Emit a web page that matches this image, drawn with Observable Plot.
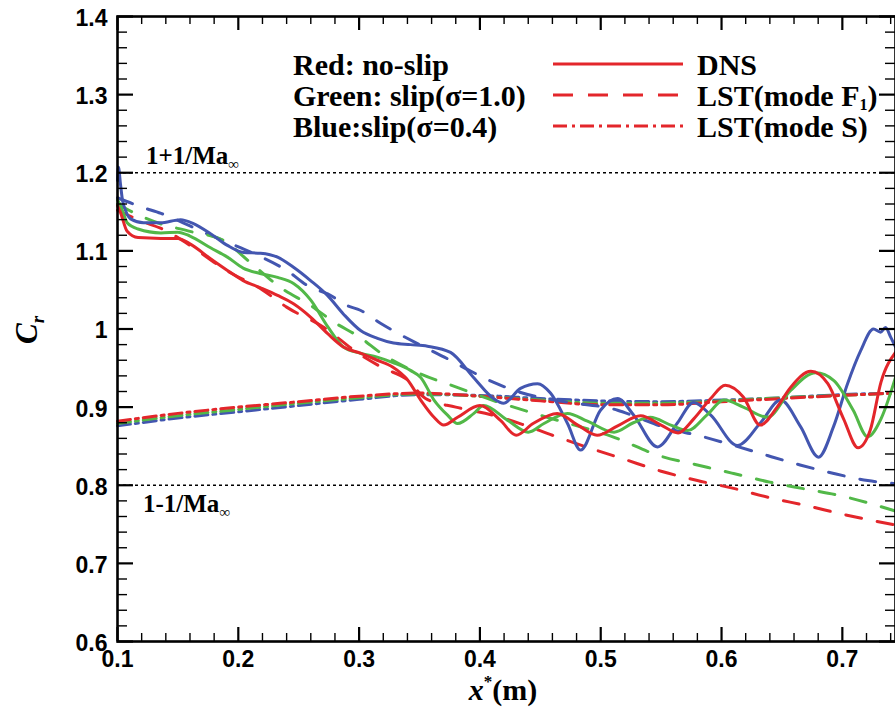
<!DOCTYPE html>
<html><head><meta charset="utf-8">
<script src="https://cdn.jsdelivr.net/npm/d3@7"></script>
<script src="https://cdn.jsdelivr.net/npm/@observablehq/plot@0.6"></script>
<style>body{margin:0;background:#fff} svg{display:block}</style>
</head><body><div id="chart"></div>
<script>
// ---------- data ----------
const redDnsX = [0.1,0.1025,0.108,0.117,0.136,0.15,0.16,0.177,0.191,0.204,0.218,0.2325,0.246,0.26,0.274,0.287,0.301,0.315,0.328,0.34,0.351,0.362,0.37,0.3815,0.4,0.417,0.43,0.444,0.464,0.481,0.497,0.514,0.533,0.55,0.564,0.577,0.591,0.603,0.618,0.632,0.646,0.657,0.674,0.688,0.701,0.713,0.723,0.732,0.744];
const redDnsY = [1.158,1.149,1.125,1.117,1.116,1.116,1.109,1.09,1.075,1.062,1.053,1.043,1.032,1.015,0.994,0.977,0.969,0.96,0.951,0.935,0.909,0.887,0.877,0.887,0.902,0.883,0.864,0.879,0.892,0.877,0.864,0.876,0.889,0.877,0.867,0.885,0.911,0.928,0.913,0.877,0.9,0.925,0.946,0.93,0.885,0.848,0.87,0.932,0.97];

const greenDnsX = [0.1,0.1025,0.108,0.117,0.136,0.15,0.16,0.177,0.191,0.204,0.218,0.2325,0.246,0.26,0.274,0.287,0.301,0.315,0.328,0.3425,0.351,0.362,0.373,0.3815,0.395,0.403,0.423,0.44,0.453,0.4725,0.489,0.511,0.527,0.541,0.558,0.572,0.588,0.602,0.618,0.638,0.657,0.678,0.693,0.709,0.721,0.732,0.744];
const greenDnsY = [1.165,1.158,1.136,1.128,1.123,1.124,1.119,1.104,1.092,1.078,1.071,1.066,1.058,1.037,1.003,0.977,0.969,0.964,0.957,0.947,0.938,0.909,0.89,0.879,0.892,0.902,0.883,0.868,0.879,0.892,0.882,0.868,0.88,0.887,0.877,0.87,0.89,0.909,0.9,0.887,0.921,0.944,0.934,0.896,0.862,0.885,0.938];

const blueDnsX = [0.1,0.1008,0.1025,0.1041,0.1066,0.1108,0.1215,0.1356,0.1522,0.1629,0.177,0.191,0.2043,0.2184,0.2325,0.2457,0.2598,0.2738,0.2871,0.3012,0.3152,0.3285,0.3425,0.3566,0.3757,0.3947,0.4113,0.4195,0.4336,0.4477,0.4584,0.4725,0.4833,0.4998,0.5139,0.5272,0.547,0.5636,0.5768,0.5909,0.6132,0.6323,0.6488,0.6654,0.6803,0.6927,0.7043,0.7151,0.7258,0.7316,0.7358,0.7399,0.744];
const blueDnsY = [1.19,1.207,1.185,1.165,1.152,1.141,1.136,1.136,1.14,1.135,1.122,1.107,1.098,1.097,1.092,1.079,1.062,1.043,1.019,0.998,0.988,0.982,0.98,0.978,0.97,0.938,0.911,0.905,0.924,0.93,0.918,0.879,0.845,0.896,0.911,0.89,0.849,0.88,0.906,0.89,0.851,0.88,0.909,0.875,0.836,0.875,0.93,0.972,1.0,0.996,1.002,0.99,0.977];

const redF1X = [0.1,0.12,0.14,0.16,0.19,0.22,0.24,0.27,0.3,0.32,0.34,0.355,0.38,0.41,0.435,0.46,0.49,0.52,0.55,0.58,0.61,0.64,0.67,0.7,0.744];
const redF1Y = [1.152,1.138,1.126,1.107,1.075,1.05,1.028,1.003,0.968,0.95,0.935,0.911,0.9,0.89,0.878,0.864,0.848,0.833,0.818,0.806,0.796,0.784,0.774,0.763,0.749];

const greenF1X = [0.1,0.12,0.135,0.16,0.188,0.21,0.235,0.26,0.28,0.3,0.32,0.35,0.38,0.41,0.46,0.51,0.55,0.58,0.61,0.64,0.67,0.7,0.744];
const greenF1Y = [1.16,1.144,1.135,1.125,1.113,1.085,1.053,1.03,1.008,0.99,0.967,0.943,0.926,0.909,0.885,0.862,0.837,0.826,0.815,0.804,0.795,0.786,0.767];

const blueF1X = [0.1,0.12,0.136,0.16,0.177,0.191,0.215,0.24,0.26,0.274,0.29,0.301,0.318,0.328,0.35,0.373,0.39,0.411,0.433,0.47,0.514,0.527,0.555,0.58,0.61,0.638,0.665,0.693,0.721,0.744];
const blueF1Y = [1.168,1.156,1.148,1.132,1.12,1.111,1.095,1.075,1.053,1.045,1.03,1.024,1.007,0.998,0.98,0.962,0.948,0.932,0.919,0.907,0.896,0.889,0.873,0.864,0.851,0.838,0.826,0.815,0.806,0.802];

const modeSX = [0.1,0.15,0.2,0.25,0.3,0.35,0.4,0.45,0.5,0.55,0.6,0.65,0.7,0.744];
const redSY   = [0.882,0.892,0.9,0.907,0.914,0.918,0.914,0.908,0.903,0.903,0.907,0.911,0.915,0.918];
const greenSY = [0.879,0.889,0.897,0.905,0.912,0.917,0.914,0.909,0.905,0.905,0.908,0.912,0.915,0.918];
const blueSY  = [0.876,0.886,0.894,0.902,0.91,0.916,0.915,0.911,0.908,0.907,0.909,0.912,0.916,0.918];

const limitLines = [1.2, 0.8];
const xMajor = [0.1,0.2,0.3,0.4,0.5,0.6,0.7];
const yMajor = [0.6,0.7,0.8,0.9,1.0,1.1,1.2,1.3,1.4];
const xMinor = d3.range(6, 38).map(i => i * 0.02).filter(v => v <= 0.744 && Math.abs(v * 10 - Math.round(v * 10)) > 1e-6);
const yMinor = d3.range(31, 70).map(i => i * 0.02).filter(v => Math.abs(v * 10 - Math.round(v * 10)) > 1e-6);

const RED = "#e3262b", GREEN = "#52b848", BLUE = "#4356b0";
const rows = (xs, ys) => xs.map((x, i) => ({x, y: ys[i]}));

// ---------- layout ----------
const W = 895, H = 710, mL = 117, mR = 0, mT = 16, mB = 69;
const fw = W - mL - mR, fh = H - mT - mB;
const SANS = "'Liberation Sans', Arial, sans-serif";
const SERIF = "'Liberation Serif', 'Times New Roman', serif";
const fmt = d3.format("~g");

const dashF1 = "16,16", dashS = "13,5,3,5";
const lineOpts = (stroke, dash) => ({x: "x", y: "y", stroke, strokeWidth: 3, strokeDasharray: dash, curve: "monotone-x"});

const plot = Plot.plot({
  width: W, height: H,
  marginLeft: mL, marginRight: mR, marginTop: mT, marginBottom: mB,
  x: {domain: [0.1, 0.744]},
  y: {domain: [0.6, 1.4]},
  style: {background: "#fff"},
  marks: [
    Plot.ruleY(limitLines, {y: d => d, stroke: "#000", strokeWidth: 1.6, strokeDasharray: "3,3"}),
    Plot.line(rows(modeSX, blueSY), lineOpts(BLUE, dashS)),
    Plot.line(rows(modeSX, greenSY), lineOpts(GREEN, dashS)),
    Plot.line(rows(modeSX, redSY), lineOpts(RED, dashS)),
    Plot.line(rows(blueF1X, blueF1Y), lineOpts(BLUE, dashF1)),
    Plot.line(rows(greenF1X, greenF1Y), lineOpts(GREEN, dashF1)),
    Plot.line(rows(redF1X, redF1Y), lineOpts(RED, dashF1)),
    Plot.line(rows(blueDnsX, blueDnsY), lineOpts(BLUE, null)),
    Plot.line(rows(greenDnsX, greenDnsY), lineOpts(GREEN, null)),
    Plot.line(rows(redDnsX, redDnsY), lineOpts(RED, null)),
    // tick marks (inward)
    Plot.ruleX(xMajor, {x: d => d, insetTop: fh - 14, stroke: "#000", strokeWidth: 2.2}),
    Plot.ruleX(xMinor, {x: d => d, insetTop: fh - 8, stroke: "#000", strokeWidth: 1.4}),
    Plot.ruleX(xMajor, {x: d => d, insetBottom: fh - 14, stroke: "#000", strokeWidth: 2.2}),
    Plot.ruleX(xMinor, {x: d => d, insetBottom: fh - 8, stroke: "#000", strokeWidth: 1.4}),
    Plot.ruleY(yMajor, {y: d => d, insetRight: fw - 16, stroke: "#000", strokeWidth: 2.2}),
    Plot.ruleY(yMinor, {y: d => d, insetRight: fw - 10, stroke: "#000", strokeWidth: 1.4}),
    Plot.ruleY(yMajor, {y: d => d, insetLeft: fw - 16, stroke: "#000", strokeWidth: 2.2}),
    Plot.ruleY(yMinor, {y: d => d, insetLeft: fw - 10, stroke: "#000", strokeWidth: 1.4}),
    Plot.frame({stroke: "#000", strokeWidth: 2.6}),
    Plot.axisX({ticks: xMajor, anchor: "bottom", tickSize: 0, tickPadding: 9, tickFormat: fmt, label: null,
      fontSize: 23, fontWeight: "bold", fontFamily: SANS}),
    Plot.axisY({ticks: yMajor, anchor: "left", tickSize: 0, tickPadding: 10, tickFormat: fmt, label: null,
      fontSize: 23, fontWeight: "bold", fontFamily: SANS, dy: 2})
  ]
});

const svg = d3.select(plot);
const sx = plot.scale("x"), sy = plot.scale("y");
const ann = svg.append("g").attr("fill", "#000").attr("font-family", SERIF).attr("font-weight", "bold")
  .attr("text-anchor", "start");

// limit labels
function maLabel(sign, x, y) {
  const t = ann.append("text").attr("x", x).attr("y", y).attr("font-size", 25);
  t.append("tspan").text("1" + sign + "1/Ma");
  t.append("tspan").attr("dy", 5).attr("font-size", 15).text("\u221E");
}
maLabel("+", sx.apply(0.1) + 29, sy.apply(1.2) - 8);
maLabel("-", sx.apply(0.1) + 26, sy.apply(0.8) + 27);

// axis titles
const xt = ann.append("text").attr("x", 503).attr("y", 700).attr("text-anchor", "middle").attr("font-size", 30);
xt.append("tspan").attr("font-style", "italic").text("x");
xt.append("tspan").attr("dy", -13).attr("font-size", 17).text("*");
xt.append("tspan").attr("dy", 13).text("(m)");

const yt = ann.append("text").attr("transform", "translate(37,330) rotate(-90)").attr("text-anchor", "middle")
  .attr("font-size", 31).attr("font-style", "italic");
yt.append("tspan").text("C");
yt.append("tspan").attr("dy", 7).attr("font-size", 19).text("r");

// legend
const legendLeft = ["Red: no-slip", "Green: slip(\u03C3=1.0)", "Blue:slip(\u03C3=0.4)"];
const legendDash = [null, "20,15", "14,5,3,5"];
const baselines = [75, 106, 137];
legendLeft.forEach((s, i) => {
  ann.append("text").attr("x", 293).attr("y", baselines[i]).attr("font-size", 30).text(s);
  ann.append("line").attr("x1", 553).attr("x2", 683).attr("y1", baselines[i] - 11).attr("y2", baselines[i] - 11)
    .attr("stroke", RED).attr("stroke-width", 3.2).attr("stroke-dasharray", legendDash[i]);
});
ann.append("text").attr("x", 697).attr("y", baselines[0]).attr("font-size", 30).text("DNS");
const f1 = ann.append("text").attr("x", 697).attr("y", baselines[1]).attr("font-size", 30);
f1.append("tspan").text("LST(mode F");
f1.append("tspan").attr("dy", 4).attr("font-size", 16).text("1");
f1.append("tspan").attr("dy", -4).text(")");
ann.append("text").attr("x", 697).attr("y", baselines[2]).attr("font-size", 30).text("LST(mode S)");

document.getElementById("chart").appendChild(plot);
</script>
</body></html>
